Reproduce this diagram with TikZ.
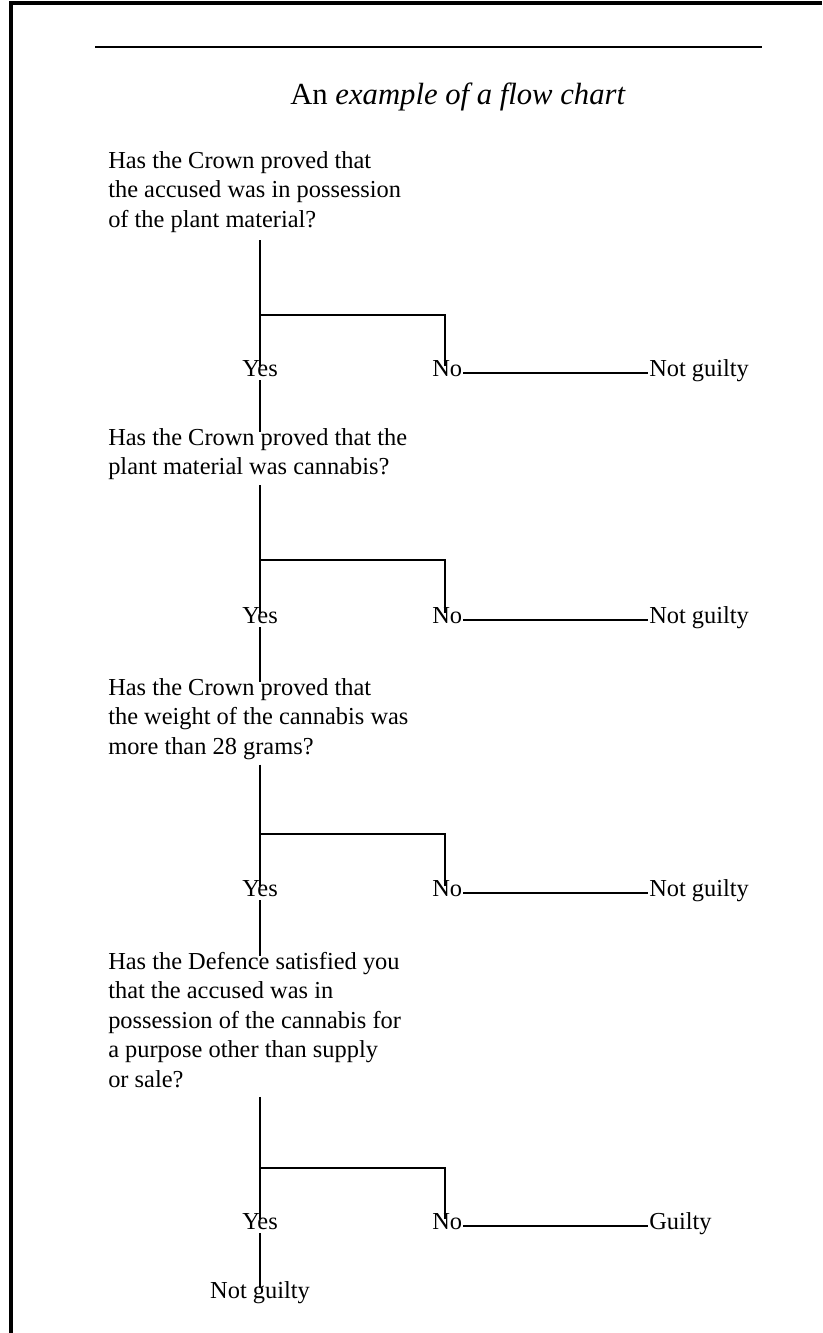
\documentclass[tikz,border=0pt]{standalone}
\usepackage{fontspec}
\setmainfont{Liberation Serif}
\usepackage{tikz}

\begin{document}
\begin{tikzpicture}[x=0.75pt,y=0.75pt,yscale=-1,xscale=1,
  every node/.style={font=\fontsize{18.3}{22.1}\selectfont},
  lbl/.style={inner sep=0.75pt,text height=1.45ex,text depth=0.45ex},
  conn/.style={line width=1.4pt}]
\useasboundingbox (0,0) rectangle (822,1333);

%Frame and rule
\draw [line width=2.4pt]  (11,1333) -- (11,3) -- (822,3) ;
\draw [line width=1.8pt]  (95,47) -- (762,47) ;

% Text Node
\draw (458,97) node [inner sep=0.75pt] [font=\fontsize{23}{28}\selectfont] (title) {An \textit{example of a flow chart}};

% Text Node
\draw (107,150) node [anchor=north west][inner sep=0.75pt]   [align=left] (q1) {Has the Crown proved that\\the accused was in possession\\of the plant material?};
% Text Node
\draw (260,373) node [lbl] (yes1) {Yes};
% Text Node
\draw (431,373) node [anchor=west][lbl] (no1) {No};
% Text Node
\draw (648,373) node [anchor=west][lbl] (ng1) {Not guilty};

% Text Node
\draw (107,427) node [anchor=north west][inner sep=0.75pt]   [align=left] (q2) {Has the Crown proved that the\\plant material was cannabis?};
% Text Node
\draw (260,620) node [lbl] (yes2) {Yes};
% Text Node
\draw (431,620) node [anchor=west][lbl] (no2) {No};
% Text Node
\draw (648,620) node [anchor=west][lbl] (ng2) {Not guilty};

% Text Node
\draw (107,677) node [anchor=north west][inner sep=0.75pt]   [align=left] (q3) {Has the Crown proved that\\the weight of the cannabis was\\more than 28 grams?};
% Text Node
\draw (260,893) node [lbl] (yes3) {Yes};
% Text Node
\draw (431,893) node [anchor=west][lbl] (no3) {No};
% Text Node
\draw (648,893) node [anchor=west][lbl] (ng3) {Not guilty};

% Text Node
\draw (107,951) node [anchor=north west][inner sep=0.75pt]   [align=left] (q4) {Has the Defence satisfied you\\that the accused was in\\possession of the cannabis for\\a purpose other than supply\\or sale?};
% Text Node
\draw (260,1226) node [lbl] (yes4) {Yes};
% Text Node
\draw (431,1226) node [anchor=west][lbl] (no4) {No};
% Text Node
\draw (648,1226) node [anchor=west][lbl] (g4) {Guilty};
% Text Node
\draw (260,1295) node [lbl] (ng4) {Not guilty};

%Branch points
\coordinate (br1) at (260,315) ;
\coordinate (br2) at (260,560) ;
\coordinate (br3) at (260,834) ;
\coordinate (br4) at (260,1168) ;

%Straight Lines
\draw [conn]  ([yshift=5]q1.south -| yes1) -- (yes1.north) ;
\draw [conn]  (br1) -| ([xshift=10.5pt]no1.north west) ;
\draw [conn]  (no1.east) -- (ng1.west) ;
\draw [conn]  (yes1.south) -- ([yshift=4]q2.north -| yes1) ;

\draw [conn]  ([yshift=3]q2.south -| yes2) -- (yes2.north) ;
\draw [conn]  (br2) -| ([xshift=10.5pt]no2.north west) ;
\draw [conn]  (no2.east) -- (ng2.west) ;
\draw [conn]  (yes2.south) -- ([yshift=4]q3.north -| yes2) ;

\draw [conn]  ([yshift=3]q3.south -| yes3) -- (yes3.north) ;
\draw [conn]  (br3) -| ([xshift=10.5pt]no3.north west) ;
\draw [conn]  (no3.east) -- (ng3.west) ;
\draw [conn]  (yes3.south) -- ([yshift=4]q4.north -| yes3) ;

\draw [conn]  ([yshift=6]q4.south -| yes4) -- (yes4.north) ;
\draw [conn]  (br4) -| ([xshift=10.5pt]no4.north west) ;
\draw [conn]  (no4.east) -- (g4.west) ;
\draw [conn]  (yes4.south) -- (ng4.north) ;

\end{tikzpicture}
\end{document}
